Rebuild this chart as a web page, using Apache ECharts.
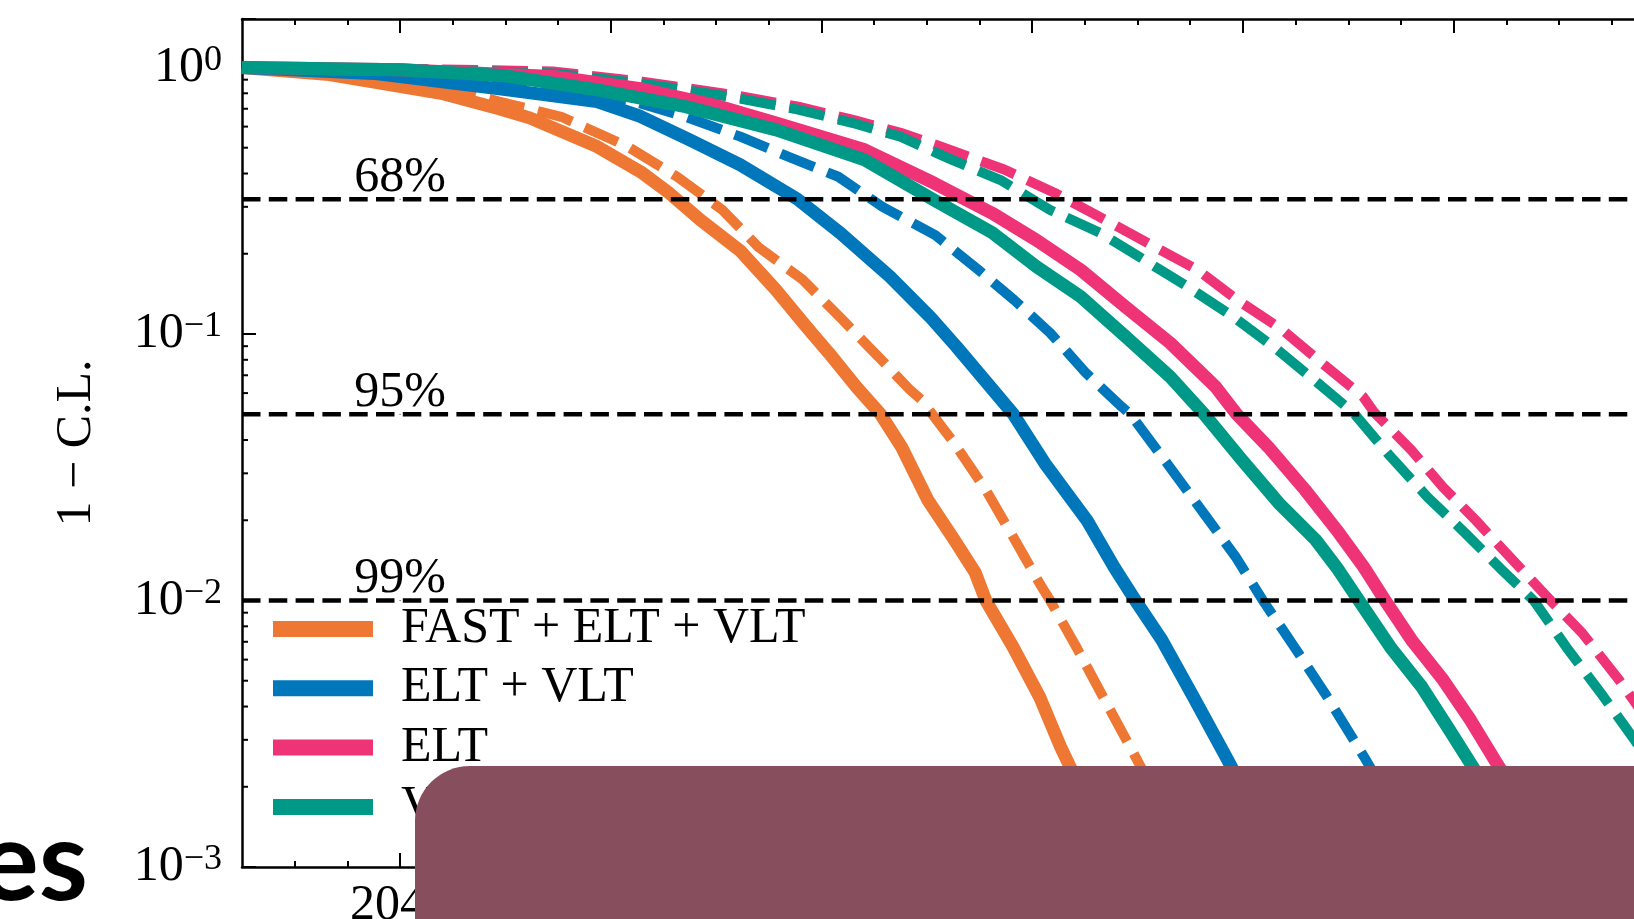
<!DOCTYPE html>
<html>
<head>
<meta charset="utf-8">
<script src="https://cdn.jsdelivr.net/npm/echarts@6/dist/echarts.min.js"></script>
<style>
html,body{margin:0;padding:0;overflow:hidden;background:#fff;}
#c{width:1760px;height:919px;}
</style>
</head>
<body>
<div id="c"></div>
<script>
// ---- data (x = year, y = 1 - C.L.) ----
const seriesNames = ['FAST + ELT + VLT', 'ELT + VLT', 'ELT', 'VLT'];
const seriesColors = ['#EE7733', '#0077BB', '#EE3377', '#009988'];

const orangeSolid = [[2038.5,1.0],[2039.33,0.94],[2040.39,0.80],[2040.94,0.70],[2041.23,0.647],[2041.87,0.505],[2042.30,0.402],[2042.55,0.339],[2042.85,0.268],[2043.23,0.205],[2043.57,0.146],[2043.86,0.106],[2044.07,0.0849],[2044.33,0.0634],[2044.56,0.0501],[2044.76,0.0377],[2045.01,0.0238],[2045.26,0.0169],[2045.46,0.0127],[2045.56,0.0100],[2045.82,0.00668],[2046.07,0.00435],[2046.27,0.00282],[2046.6,0.0015],[2046.85,0.001]];
const orangeDashed = [[2038.5,1.0],[2039.5,0.96],[2040.4,0.85],[2040.94,0.745],[2041.53,0.653],[2042.16,0.505],[2042.63,0.389],[2043.06,0.292],[2043.4,0.212],[2043.82,0.160],[2044.2,0.113],[2044.54,0.0822],[2044.84,0.0617],[2044.95,0.0565],[2045.26,0.0389],[2045.56,0.0260],[2045.82,0.0173],[2046.07,0.0116],[2046.17,0.0100],[2046.42,0.00668],[2046.67,0.00437],[2046.93,0.00282],[2047.3,0.0015],[2047.5,0.001]];
const blueSolid = [[2038.5,1.0],[2039.75,0.95],[2041.02,0.824],[2041.87,0.745],[2042.28,0.656],[2042.75,0.535],[2043.23,0.431],[2043.77,0.321],[2044.18,0.239],[2044.65,0.164],[2045.03,0.116],[2045.28,0.0897],[2045.6,0.0635],[2045.82,0.0501],[2046.12,0.0327],[2046.52,0.0200],[2046.78,0.0133],[2046.98,0.0100],[2047.23,0.00711],[2047.53,0.00435],[2047.84,0.00259],[2048.2,0.0014],[2048.4,0.001]];
const blueDashed = [[2038.5,1.0],[2040.5,0.93],[2042.16,0.757],[2042.71,0.653],[2043.23,0.550],[2043.69,0.462],[2044.16,0.389],[2044.58,0.300],[2045.08,0.235],[2045.49,0.174],[2045.83,0.134],[2046.17,0.101],[2046.51,0.0714],[2046.85,0.0533],[2046.93,0.0501],[2047.28,0.0327],[2047.63,0.0212],[2047.93,0.0146],[2048.19,0.0100],[2048.49,0.00668],[2048.80,0.00435],[2049.15,0.00259],[2049.5,0.0015],[2049.7,0.001]];
const pinkSolid = [[2038.5,1.0],[2040.0,0.98],[2041.45,0.925],[2042.3,0.83],[2043.0,0.72],[2043.57,0.619],[2044.41,0.491],[2045.07,0.368],[2045.62,0.284],[2046.04,0.225],[2046.46,0.174],[2046.89,0.126],[2047.31,0.0925],[2047.74,0.0634],[2047.94,0.0501],[2048.24,0.0377],[2048.59,0.0260],[2048.89,0.0184],[2049.15,0.0133],[2049.35,0.0100],[2049.6,0.00711],[2049.9,0.00504],[2050.16,0.00356],[2050.41,0.00245],[2050.8,0.0014],[2051.0,0.001]];
const tealSolid = [[2038.5,1.0],[2040.0,0.98],[2041.0,0.93],[2041.87,0.824],[2042.71,0.713],[2043.57,0.583],[2044.41,0.450],[2045.07,0.318],[2045.62,0.240],[2046.04,0.179],[2046.46,0.138],[2046.89,0.0975],[2047.31,0.0690],[2047.63,0.0501],[2047.99,0.0337],[2048.34,0.0232],[2048.69,0.0169],[2048.89,0.0133],[2049.1,0.0100],[2049.4,0.00668],[2049.7,0.00473],[2049.96,0.00327],[2050.16,0.00245],[2050.5,0.0015],[2050.7,0.001]];
const pinkDashed = [[2038.5,1.0],[2040.0,0.99],[2041.45,0.966],[2042.3,0.885],[2043.14,0.791],[2043.78,0.713],[2044.29,0.637],[2044.75,0.569],[2045.13,0.505],[2045.74,0.413],[2046.21,0.339],[2046.64,0.275],[2047.1,0.219],[2047.57,0.174],[2047.95,0.134],[2048.37,0.104],[2048.75,0.0778],[2049.14,0.0582],[2049.25,0.0506],[2049.6,0.0366],[2049.9,0.0266],[2050.21,0.0200],[2050.56,0.0142],[2050.92,0.0100],[2051.22,0.00755],[2051.57,0.00504],[2051.9,0.0033],[2052.2,0.002]];
const tealDashed = [[2038.5,1.0],[2040.0,0.99],[2041.45,0.95],[2042.3,0.87],[2043.14,0.775],[2043.78,0.695],[2044.29,0.62],[2044.75,0.55],[2045.24,0.450],[2045.7,0.378],[2046.17,0.292],[2046.64,0.240],[2047.06,0.190],[2047.48,0.150],[2047.91,0.116],[2048.33,0.0871],[2048.71,0.0655],[2049.05,0.0506],[2049.4,0.0347],[2049.75,0.0245],[2050.11,0.0179],[2050.46,0.0130],[2050.76,0.0100],[2051.07,0.00668],[2051.42,0.00437],[2051.72,0.00299],[2052.0,0.002]];

const thresholdValues = [0.32, 0.05, 0.01];
const thresholdLabels = ['68%', '95%', '99%'];
const thresholdLabelYear = 2040;

const xMin = 2038.5, xMax = 2052.5;
const yMin = 0.001, yMax = 1.52;
const xMajorTicks = [2040, 2042, 2044, 2046, 2048, 2050, 2052];
const xMinorTicks = [2039, 2039.5, 2040.5, 2041, 2041.5, 2042.5, 2043, 2043.5, 2044.5, 2045, 2045.5, 2046.5, 2047, 2047.5, 2048.5, 2049, 2049.5, 2050.5, 2051, 2051.5, 2052];
const yMinorTicks = [0.002,0.003,0.004,0.005,0.006,0.007,0.008,0.009,0.02,0.03,0.04,0.05,0.06,0.07,0.08,0.09,0.2,0.3,0.4,0.5,0.6,0.7,0.8,0.9];

// ---- chart ----
const SERIF = '"Liberation Serif", "Times New Roman", serif';
const chart = echarts.init(document.getElementById('c'), null, {renderer: 'canvas'});

function lineSeries(name, data, color, dashed) {
  return {
    name: name, type: 'line', data: data, showSymbol: false, symbol: 'none',
    xAxisIndex: 0, yAxisIndex: 0, clip: true, z: dashed ? 3 : 4,
    itemStyle: {color: color},
    lineStyle: dashed ? {color: color, width: 10, type: [36, 14], cap: 'butt'} : {color: color, width: 13, join: 'round'},
    emphasis: {disabled: true}, silent: true
  };
}

const axisLineStyle = {color: '#000', width: 2.5};
const tickStyle = {color: '#000', width: 2};

function xAxisDef(position, ticks, len, showLine, showLabel) {
  return {
    type: 'value', min: xMin, max: xMax, position: position,
    axisLine: {show: showLine, onZero: false, lineStyle: axisLineStyle},
    axisTick: {show: true, inside: true, length: len, customValues: ticks, lineStyle: tickStyle},
    axisLabel: showLabel ? {show: true, customValues: ticks, margin: 14, color: '#000', fontFamily: SERIF, fontSize: 50, formatter: v => String(v)} : {show: false},
    splitLine: {show: false}
  };
}

function logLabel(v) {
  const e = Math.round(Math.log10(v));
  if (Math.abs(v / Math.pow(10, e) - 1) > 1e-6) return '';
  const sup = e === 0 ? '0' : '\u2212' + (-e);
  return '{b|10}{s|' + sup + '}';
}

const series = [
  lineSeries(seriesNames[0] + ' ', orangeDashed, seriesColors[0], true),
  lineSeries(seriesNames[1] + ' ', blueDashed, seriesColors[1], true),
  lineSeries(seriesNames[2] + ' ', pinkDashed, seriesColors[2], true),
  lineSeries(seriesNames[3] + ' ', tealDashed, seriesColors[3], true),
  lineSeries(seriesNames[0], orangeSolid, seriesColors[0], false),
  lineSeries(seriesNames[1], blueSolid, seriesColors[1], false),
  lineSeries(seriesNames[2], pinkSolid, seriesColors[2], false),
  lineSeries(seriesNames[3], tealSolid, seriesColors[3], false)
];

thresholdValues.forEach(function (v) {
  series.push({
    type: 'line', data: [[xMin, v], [xMax, v]], showSymbol: false, symbol: 'none', silent: true, z: 5,
    lineStyle: {color: '#000', width: 4.5, type: [18.5, 8.3], cap: 'butt'}
  });
});

series.push({
  type: 'scatter', symbol: 'circle', symbolSize: 1, silent: true, z: 6,
  itemStyle: {color: '#000', opacity: 1},
  labelLayout: {hideOverlap: false},
  data: thresholdValues.map(v => [thresholdLabelYear, v]),
  label: {show: true, position: 'top', distance: -4, color: '#000', opacity: 1, fontFamily: SERIF, fontSize: 50,
    formatter: p => thresholdLabels[p.dataIndex]}
});

series.push({
  type: 'custom', silent: true, clip: false, z: 7,
  data: yMinorTicks.map(v => [xMin, v]),
  renderItem: function (params, api) {
    const p = api.coord([api.value(0), api.value(1)]);
    return {type: 'line', shape: {x1: p[0], y1: p[1], x2: p[0] + 6, y2: p[1]}, style: {stroke: '#000', lineWidth: 2}};
  }
});

chart.setOption({
  animation: false,
  backgroundColor: '#fff',
  grid: {left: 242, top: 19, width: 1475, height: 848, containLabel: false, outerBoundsMode: 'none'},
  xAxis: [
    xAxisDef('bottom', xMajorTicks, 14, true, true),
    xAxisDef('bottom', xMinorTicks, 6, false, false),
    xAxisDef('top', xMajorTicks, 14, true, false),
    xAxisDef('top', xMinorTicks, 6, false, false)
  ],
  yAxis: [{
    type: 'log', logBase: 10, min: yMin, max: yMax, position: 'left',
    name: '1 \u2212 C.L.', nameLocation: 'middle', nameRotate: 90, nameGap: 140,
    nameTextStyle: {color: '#000', fontFamily: SERIF, fontSize: 50},
    axisLine: {show: true, onZero: false, lineStyle: axisLineStyle},
    axisTick: {show: true, inside: true, length: 14, lineStyle: tickStyle},
    axisLabel: {show: true, margin: 20, formatter: logLabel,
      rich: {
        b: {color: '#000', fontFamily: SERIF, fontSize: 50, lineHeight: 50, verticalAlign: 'bottom'},
        s: {color: '#000', fontFamily: SERIF, fontSize: 36, lineHeight: 36, verticalAlign: 'top'}
      }},
    splitLine: {show: false},
    minorTick: {show: false}
  }],
  legend: {
    show: true, orient: 'vertical', left: 273, top: 604, padding: 0,
    itemWidth: 100, itemHeight: 16, itemGap: 9.3, selectedMode: false,
    icon: 'rect',
    data: seriesNames,
    textStyle: {color: '#000', fontFamily: SERIF, fontSize: 50, lineHeight: 50, padding: [0, 0, 0, 23]}
  },
  graphic: [
    {type: 'rect', z: 100, silent: true,
      shape: {x: 415, y: 766, width: 1400, height: 300, r: [55, 0, 0, 0]},
      style: {fill: '#874f5d'}},
    {type: 'text', z: 100, silent: true, x: 88, y: 864,
      style: {text: 'es', fill: '#000', font: 'bold 112px Lato, "Open Sans", sans-serif', align: 'right', verticalAlign: 'middle'}}
  ],
  series: series
});
</script>
</body>
</html>
